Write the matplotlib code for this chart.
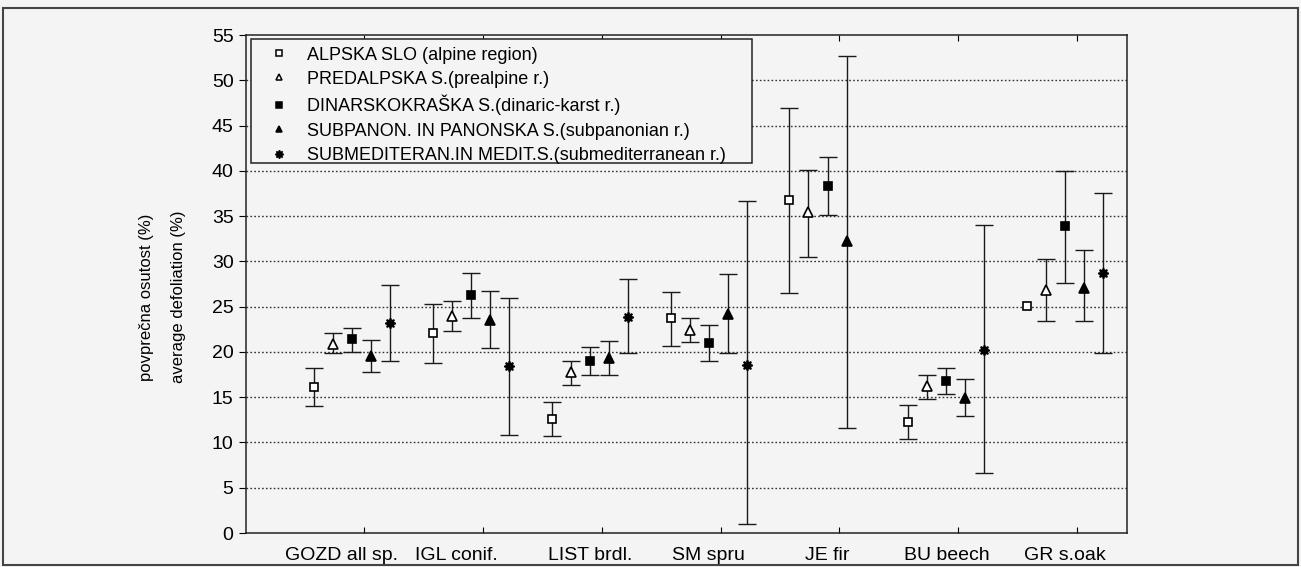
import numpy as np
import matplotlib
matplotlib.use("Agg")
import matplotlib.pyplot as plt
from matplotlib.lines import Line2D
from matplotlib.patches import Rectangle

plt.rcParams['font.family'] = ['Liberation Sans', 'DejaVu Sans']

categories = ["GOZD all sp.", "IGL conif.", "LIST brdl.", "SM spru", "JE fir", "BU beech", "GR s.oak"]
series_names = ["ALPSKA SLO (alpine region)",
                "PREDALPSKA S.(prealpine r.)",
                "DINARSKOKRAŠKA S.(dinaric-karst r.)",
                "SUBPANON. IN PANONSKA S.(subpanonian r.)",
                "SUBMEDITERAN.IN MEDIT.S.(submediterranean r.)"]

alpine_mean  = [16.1, 22.1, 12.6, 23.7, 36.8, 12.3, 25.1]
alpine_low   = [14.0, 18.8, 10.7, 20.6, 26.5, 10.4, 25.1]
alpine_high  = [18.2, 25.3, 14.5, 26.6, 46.9, 14.1, 25.1]

prealp_mean  = [20.9, 24.0, 17.8, 22.4, 35.4, 16.2, 26.8]
prealp_low   = [19.9, 22.3, 16.4, 21.1, 30.5, 14.8, 23.4]
prealp_high  = [22.1, 25.6, 19.0, 23.8, 40.1, 17.5, 30.3]

dinaric_mean = [21.4, 26.3, 19.0, 21.0, 38.3, 16.8, 33.9]
dinaric_low  = [20.0, 23.8, 17.5, 19.0, 35.1, 15.4, 27.6]
dinaric_high = [22.6, 28.7, 20.5, 23.0, 41.5, 18.2, 40.0]

subpan_mean  = [19.6, 23.5, 19.3, 24.2, 32.2, 14.9, 27.1]
subpan_low   = [17.8, 20.4, 17.5, 19.9, 11.6, 12.9, 23.4]
subpan_high  = [21.3, 26.7, 21.2, 28.6, 52.7, 17.0, 31.2]

submed_mean  = [23.2, 18.4, 23.9, 18.6, np.nan, 20.2, 28.7]
submed_low   = [19.0, 10.8, 19.9, 1.0, np.nan, 6.6, 19.9]
submed_high  = [27.4, 26.0, 28.1, 36.7, np.nan, 34.0, 37.6]

y_ticks = [0, 5, 10, 15, 20, 25, 30, 35, 40, 45, 50, 55]

means = [alpine_mean, prealp_mean, dinaric_mean, subpan_mean, submed_mean]
lows = [alpine_low, prealp_low, dinaric_low, subpan_low, submed_low]
highs = [alpine_high, prealp_high, dinaric_high, subpan_high, submed_high]

# styles
markers = ['s', '^', 's', '^', (8, 1, 0)]
mfcs = ['white', 'white', 'black', 'black', 'black']
msizes = [6, 6.5, 6, 6.5, 7.5]
offsets = [-0.32, -0.16, 0.0, 0.16, 0.32]
label_shift = [-0.09, -0.12, 0.0, 0.0, 0.0, 0.0, 0.0]
bg = '#f4f4f4'

W, H = 1301, 567
AX_L, AX_R, AX_T, AX_B = 246, 1127, 35, 533

fig = plt.figure(figsize=(W / 100, H / 100), dpi=100, facecolor=bg)
ax = fig.add_axes([AX_L / W, (H - AX_B) / H, (AX_R - AX_L) / W, (AX_B - AX_T) / H])
ax.set_facecolor(bg)

def ax_frac(px, py):
    return (px - AX_L) / (AX_R - AX_L), (AX_B - py) / (AX_B - AX_T)

x = np.arange(len(categories))
for m, lo, hi, mk, fc, ms, off in zip(means, lows, highs, markers, mfcs, msizes, offsets):
    m = np.array(m, dtype=float); lo = np.array(lo, dtype=float); hi = np.array(hi, dtype=float)
    has_err = (hi - lo) > 0
    yerr = np.vstack([m[has_err] - lo[has_err], hi[has_err] - m[has_err]])
    ax.errorbar((x + off)[has_err], m[has_err], yerr=yerr, fmt='none', ecolor='#1a1a1a',
                elinewidth=1.0, capsize=6.5, capthick=1.0, zorder=2)
    ax.plot(x + off, m, linestyle='none', marker=mk, markersize=ms,
            markerfacecolor=fc, markeredgecolor='black', markeredgewidth=1.2, zorder=3)

ax.set_ylim(0, 55)
ax.set_xlim(-0.893, 6.52)
ax.set_yticks(y_ticks)
ax.set_yticklabels([str(v) for v in y_ticks], fontsize=14)
for v in y_ticks[1:-1]:
    ax.axhline(v, color='#333333', linestyle=(0, (1.2, 1.6)), linewidth=1.0, zorder=1)

ax.set_xticks(x + 0.1)
ax.set_xticklabels([])
ax.tick_params(axis='x', direction='in', length=4, top=True, width=0.8)
ax.tick_params(axis='y', direction='out', length=5, width=0.8, pad=4)
for xi, lab, sh in zip(x, categories, label_shift):
    ax.text(xi + sh, -1.5, lab, ha='center', va='top', fontsize=14,
            transform=ax.transData)

for s in ax.spines.values():
    s.set_linewidth(1.1)
    s.set_color('#222222')

fig.text(147 / W, 1 - 297 / H, "povprečna osutost (%)", rotation=90,
         ha='center', va='center', fontsize=12)
fig.text(178 / W, 1 - 297 / H, "average defoliation (%)", rotation=90,
         ha='center', va='center', fontsize=12)

handles = [Line2D([], [], linestyle='none', marker=mk, markersize=ms - 1.5,
                  markerfacecolor=fc, markeredgecolor='black', markeredgewidth=1.1)
           for mk, fc, ms in zip(markers, mfcs, msizes)]
leg = ax.legend(handles, series_names, loc='upper left', bbox_to_anchor=ax_frac(263, 40),
                fontsize=13, frameon=False, borderpad=0.36, borderaxespad=0,
                labelspacing=0.4, handlelength=1.0, handletextpad=1.1)

lx0, ly1 = ax_frac(251, 39)
lx1, ly0 = ax_frac(752, 163)
ax.add_patch(Rectangle((lx0, ly0), lx1 - lx0, ly1 - ly0, transform=ax.transAxes,
                       facecolor=bg, edgecolor='#222222', linewidth=1.1, zorder=4))
leg.set_zorder(5)

fig.patches.append(Rectangle((3 / W, 2 / H), 1295 / W, 557 / H, transform=fig.transFigure,
                             fill=False, edgecolor='#444444', linewidth=1.5))

fig.savefig("out.png", dpi=100, facecolor=bg)
